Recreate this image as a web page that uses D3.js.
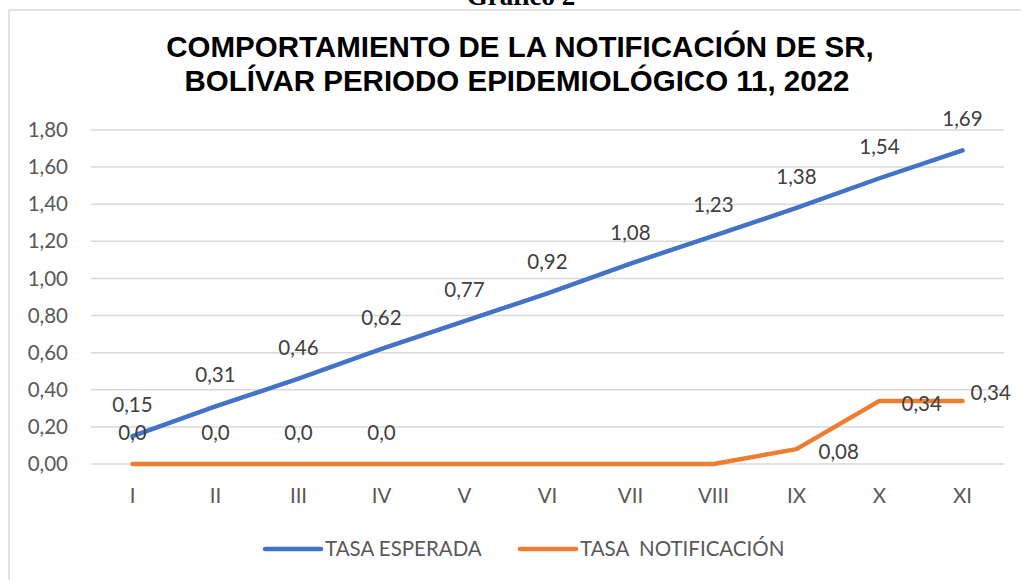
<!DOCTYPE html>
<html>
<head>
<meta charset="utf-8">
<script src="https://cdn.jsdelivr.net/npm/d3@7"></script>
<style>
  body { margin: 0; background: #fff; }
  svg { display: block; }
</style>
</head>
<body>
<svg id="chart" width="1021" height="580"></svg>
<script>
// ---- data ----
const categories = ["I","II","III","IV","V","VI","VII","VIII","IX","X","XI"];
const tasaEsperada = [0.15,0.31,0.46,0.62,0.77,0.92,1.08,1.23,1.38,1.54,1.69];
const tasaNotificacion = [0,0,0,0,0,0,0,0,0.08,0.34,0.34];
const esperadaLabels = ["0,15","0,31","0,46","0,62","0,77","0,92","1,08","1,23","1,38","1,54","1,69"];
const notificacionLabels = ["0,0","0,0","0,0","0,0",null,null,null,null,"0,08","0,34","0,34"];
const yTicks = [0,0.2,0.4,0.6,0.8,1.0,1.2,1.4,1.6,1.8];
const seriesNames = ["TASA ESPERADA","TASA  NOTIFICACIÓN"];
const titleLines = ["COMPORTAMIENTO DE LA NOTIFICACIÓN DE SR,","BOLÍVAR PERIODO EPIDEMIOLÓGICO 11, 2022"];
const headerText = "Gráfico 2";

// ---- drawing ----
const svg = d3.select("#chart");
const blue = "#4472C4", orange = "#ED7D31";
const font = "Lato, 'Open Sans', sans-serif";
const fs = 20.5;

svg.append("rect").attr("x",9).attr("y",10).attr("width",1040).attr("height",600)
  .attr("fill","#fff").attr("stroke","#D9D9D9").attr("stroke-width",1.5);

svg.append("text").attr("x",521).attr("y",4.5).attr("text-anchor","middle")
  .attr("font-family","'Liberation Serif', 'Times New Roman', serif").attr("font-weight","bold")
  .attr("font-size",27).attr("fill","#000").text(headerText);

svg.append("g").selectAll("text").data(titleLines).join("text")
  .attr("x",(d,i)=>i===0?520:517).attr("y",(d,i)=>57+i*34).attr("text-anchor","middle")
  .attr("font-family","'Liberation Sans', Arial, sans-serif").attr("font-weight","bold")
  .attr("font-size",29.5).attr("fill","#000").text(d=>d);

const x = d3.scaleBand().domain(categories).range([91,1004]);
const y = d3.scaleLinear().domain([0,1.8]).range([464,130]);
const cx = c => x(c) + x.bandwidth()/2;
const fmt = v => d3.format(".2f")(v).replace(".",",");

// gridlines
svg.append("g").selectAll("line").data(yTicks).join("line")
  .attr("x1",91).attr("x2",1004).attr("y1",d=>y(d)).attr("y2",d=>y(d))
  .attr("stroke","#D9D9D9").attr("stroke-width",1.5);

// y axis labels
const yAxis = svg.append("g").attr("transform","translate(91,0)")
  .call(d3.axisLeft(y).tickValues(yTicks).tickFormat(fmt).tickSize(0).tickPadding(23));
yAxis.select(".domain").remove();
yAxis.selectAll("text").attr("font-family",font).attr("font-size",fs).attr("fill","#595959");

// x axis labels
const xAxis = svg.append("g").attr("transform","translate(0,464)")
  .call(d3.axisBottom(x).tickSize(0).tickPadding(24));
xAxis.select(".domain").remove();
xAxis.selectAll("text").attr("font-family",font).attr("font-size",fs).attr("fill","#595959");

const line = d3.line().x((d,i)=>cx(categories[i])).y(d=>y(d));

svg.append("path").datum(tasaEsperada).attr("d",line).attr("fill","none")
  .attr("stroke",blue).attr("stroke-width",4.5).attr("stroke-linecap","round").attr("stroke-linejoin","round");
svg.append("path").datum(tasaNotificacion).attr("d",line).attr("fill","none")
  .attr("stroke",orange).attr("stroke-width",4.5).attr("stroke-linecap","round").attr("stroke-linejoin","round");

// data labels
svg.append("g").selectAll("text").data(tasaEsperada).join("text")
  .attr("x",(d,i)=>cx(categories[i])).attr("y",d=>y(d)-24).attr("text-anchor","middle")
  .attr("font-family",font).attr("font-size",fs).attr("fill","#404040")
  .text((d,i)=>esperadaLabels[i]);

const notif = tasaNotificacion.map((v,i)=>({v,i,label:notificacionLabels[i]})).filter(d=>d.label);
svg.append("g").selectAll("text").data(notif).join("text")
  .attr("x",d=>{
    const px = cx(categories[d.i]);
    if (d.i < 4) return px;
    if (d.i === categories.length-1) return px+8;
    return px+22;
  })
  .attr("y",d=>{
    const py = y(d.v);
    if (d.i < 4) return py-24;
    if (d.i === categories.length-1) return py-1;
    return py+10;
  })
  .attr("text-anchor",d=>d.i<4?"middle":"start")
  .attr("font-family",font).attr("font-size",fs).attr("fill","#404040")
  .text(d=>d.label);

// legend
const legend = svg.append("g");
const legendItems = [{name:seriesNames[0],color:blue,x:265},{name:seriesNames[1],color:orange,x:520}];
legendItems.forEach(it=>{
  legend.append("line").attr("x1",it.x).attr("x2",it.x+56).attr("y1",549).attr("y2",549)
    .attr("stroke",it.color).attr("stroke-width",4.5).attr("stroke-linecap","round");
  legend.append("text").attr("x",it.x+60).attr("y",556).attr("font-family",font)
    .attr("font-size",fs).attr("fill","#595959").style("white-space","pre").text(it.name);
});
</script>
</body>
</html>
